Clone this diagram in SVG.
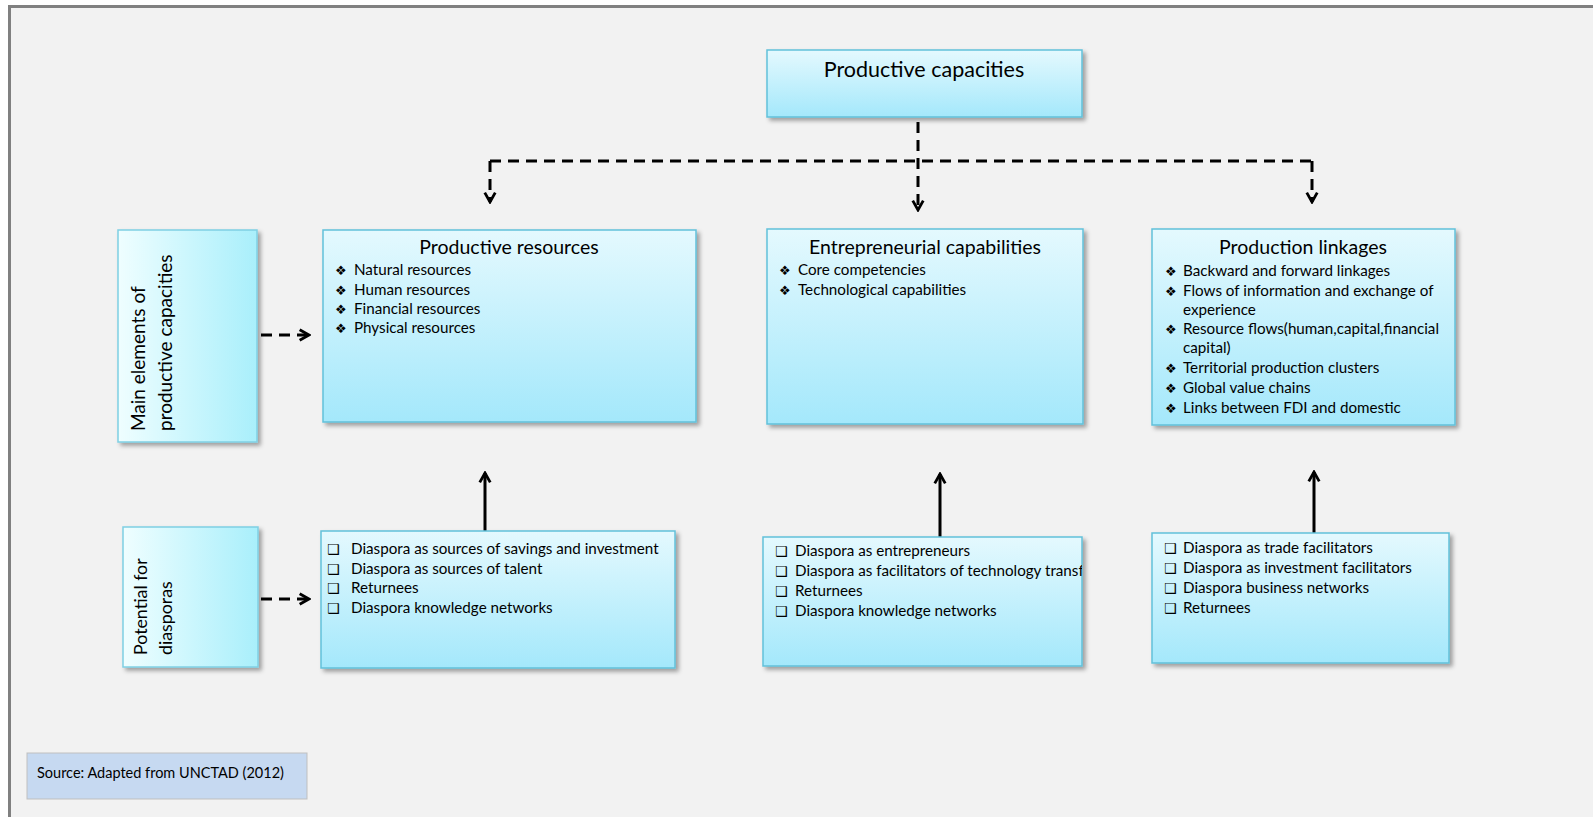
<svg xmlns="http://www.w3.org/2000/svg" width="1593" height="817" viewBox="0 0 1593 817">
<defs>
<linearGradient id="gv" x1="0" y1="0" x2="0" y2="1">
<stop offset="0" stop-color="#e4f9fe"/>
<stop offset="1" stop-color="#a4e8fb"/>
</linearGradient>
<linearGradient id="gh" x1="0" y1="0" x2="1" y2="0">
<stop offset="0" stop-color="#effeff"/>
<stop offset="1" stop-color="#a9effb"/>
</linearGradient>
<filter id="sh" x="-10%" y="-10%" width="125%" height="125%">
<feDropShadow dx="3" dy="3" stdDeviation="2" flood-color="#000" flood-opacity="0.35"/>
</filter>
<marker id="ah" viewBox="0 0 12 12" refX="10" refY="6" markerWidth="14" markerHeight="14" markerUnits="userSpaceOnUse" orient="auto">
<path d="M2,1.5 L10,6 L2,10.5" fill="none" stroke="#000" stroke-width="2.4"/>
</marker>
<clipPath id="clipB2"><rect x="763" y="537" width="319" height="129"/></clipPath>
</defs>
<style>
.box{fill:url(#gv);stroke:#62c1da;stroke-width:1.5;filter:url(#sh)}
.side{fill:url(#gh);stroke:#7fd0e4;stroke-width:1.5;filter:url(#sh)}
.t{font-family:Lato,"Liberation Sans",sans-serif;fill:#000}
.ttl{font-size:19.5px;text-anchor:middle}
.it{font-size:15.2px}
.bl{font-family:"DejaVu Sans",sans-serif;font-size:13px;fill:#000}
.sq{font-family:"DejaVu Sans",sans-serif;font-size:14px;fill:#000}
.dash{fill:none;stroke:#000;stroke-width:3;stroke-dasharray:11 7}
.sol{fill:none;stroke:#000;stroke-width:3}
</style>
<rect x="0" y="0" width="1593" height="817" fill="#ffffff"/>
<rect x="9.5" y="6.5" width="1600" height="830" fill="#f2f2f2" stroke="#808080" stroke-width="3"/>

<g id="connectors">
<path class="dash" d="M918,122 V210" marker-end="url(#ah)"/>
<path class="dash" d="M490,161 H1312"/>
<path class="dash" d="M490,161 V202" marker-end="url(#ah)"/>
<path class="dash" d="M1312,161 V202" marker-end="url(#ah)"/>
<path class="dash" d="M261,335 H309" stroke-dasharray="9 5" marker-end="url(#ah)"/>
<path class="dash" d="M261,599 H309" stroke-dasharray="9 5" marker-end="url(#ah)"/>
<path class="sol" d="M485,531 V473" marker-end="url(#ah)"/>
<path class="sol" d="M940,537 V474" marker-end="url(#ah)"/>
<path class="sol" d="M1314,533 V472" marker-end="url(#ah)"/>
</g>

<g id="productive-capacities">
<rect class="box" x="767" y="50" width="315" height="67"/>
<text class="t" x="924" y="77" font-size="21.5" text-anchor="middle">Productive capacities</text>
</g>

<g id="main-elements">
<rect class="side" x="118" y="230" width="139" height="212"/>
<text class="t" font-size="19" transform="translate(145,431) rotate(-90)">Main elements of</text>
<text class="t" font-size="19" transform="translate(172,431) rotate(-90)">productive capacities</text>
</g>

<g id="potential-diasporas">
<rect class="side" x="123" y="527" width="135" height="140"/>
<text class="t" font-size="17.8" transform="translate(147,655) rotate(-90)">Potential for</text>
<text class="t" font-size="17.8" transform="translate(172,655) rotate(-90)">diasporas</text>
</g>

<g id="productive-resources">
<rect class="box" x="323" y="230" width="373" height="192"/>
<text class="t ttl" x="509" y="254">Productive resources</text>
<text class="bl" x="335" y="275">❖</text><text class="t it" x="354" y="275">Natural resources</text>
<text class="bl" x="335" y="295">❖</text><text class="t it" x="354" y="295">Human resources</text>
<text class="bl" x="335" y="314">❖</text><text class="t it" x="354" y="314">Financial resources</text>
<text class="bl" x="335" y="333">❖</text><text class="t it" x="354" y="333">Physical resources</text>
</g>

<g id="entrepreneurial-capabilities">
<rect class="box" x="767" y="229" width="316" height="195"/>
<text class="t ttl" x="925" y="254">Entrepreneurial capabilities</text>
<text class="bl" x="779" y="275">❖</text><text class="t it" x="798" y="275">Core competencies</text>
<text class="bl" x="779" y="295">❖</text><text class="t it" x="798" y="295">Technological capabilities</text>
</g>

<g id="production-linkages">
<rect class="box" x="1152" y="229" width="303" height="196"/>
<text class="t ttl" x="1303" y="254">Production linkages</text>
<text class="bl" x="1165" y="276">❖</text><text class="t it" x="1183" y="276">Backward and forward linkages</text>
<text class="bl" x="1165" y="296">❖</text><text class="t it" x="1183" y="296">Flows of information and exchange of</text>
<text class="t it" x="1183" y="315">experience</text>
<text class="bl" x="1165" y="334">❖</text><text class="t it" x="1183" y="334">Resource flows(human,capital,financial</text>
<text class="t it" x="1183" y="353">capital)</text>
<text class="bl" x="1165" y="373">❖</text><text class="t it" x="1183" y="373">Territorial production clusters</text>
<text class="bl" x="1165" y="393">❖</text><text class="t it" x="1183" y="393">Global value chains</text>
<text class="bl" x="1165" y="413">❖</text><text class="t it" x="1183" y="413">Links between FDI and domestic</text>
</g>

<g id="diaspora-resources">
<rect class="box" x="321" y="531" width="354" height="137"/>
<text class="sq" x="327" y="554">❑</text><text class="t it" x="351" y="554">Diaspora as sources of savings and investment</text>
<text class="sq" x="327" y="574">❑</text><text class="t it" x="351" y="574">Diaspora as sources of talent</text>
<text class="sq" x="327" y="593">❑</text><text class="t it" x="351" y="593">Returnees</text>
<text class="sq" x="327" y="613">❑</text><text class="t it" x="351" y="613">Diaspora knowledge networks</text>
</g>

<g id="diaspora-entrepreneurs">
<rect class="box" x="763" y="537" width="319" height="129"/>
<g clip-path="url(#clipB2)">
<text class="sq" x="775" y="556">❑</text><text class="t it" x="795" y="556">Diaspora as entrepreneurs</text>
<text class="sq" x="775" y="576">❑</text><text class="t it" x="795" y="576">Diaspora as facilitators of technology transf</text>
<text class="sq" x="775" y="596">❑</text><text class="t it" x="795" y="596">Returnees</text>
<text class="sq" x="775" y="616">❑</text><text class="t it" x="795" y="616">Diaspora knowledge networks</text>
</g>
</g>

<g id="diaspora-linkages">
<rect class="box" x="1152" y="533" width="297" height="130"/>
<text class="sq" x="1164" y="553">❑</text><text class="t it" x="1183" y="553">Diaspora as trade facilitators</text>
<text class="sq" x="1164" y="573">❑</text><text class="t it" x="1183" y="573">Diaspora as investment facilitators</text>
<text class="sq" x="1164" y="593">❑</text><text class="t it" x="1183" y="593">Diaspora business networks</text>
<text class="sq" x="1164" y="613">❑</text><text class="t it" x="1183" y="613">Returnees</text>
</g>

<g id="source">
<rect x="27" y="753" width="280" height="46" fill="#c6d9f1" stroke="#bfbfbf" stroke-width="1"/>
<text class="t" x="37" y="778" font-size="14.5">Source: Adapted from UNCTAD (2012)</text>
</g>
</svg>
